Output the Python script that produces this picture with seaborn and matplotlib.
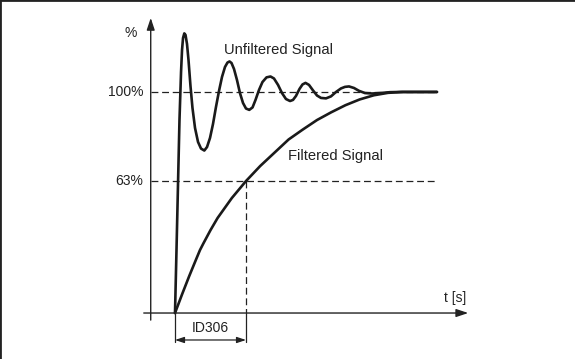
import pandas as pd
import matplotlib
matplotlib.use('Agg')
import matplotlib.pyplot as plt
import seaborn as sns

# time in units of the filter time (ID306 = 1), signal level in % of final value
t_unfiltered = [0, 0.021, 0.042, 0.063, 0.085, 0.099, 0.113, 0.131, 0.148, 0.169,
                0.190, 0.218, 0.246, 0.282, 0.324, 0.366, 0.413, 0.451, 0.493, 0.535,
                0.577, 0.620, 0.662, 0.704, 0.739, 0.768, 0.796, 0.831, 0.873, 0.915,
                0.958, 1.0, 1.046, 1.092, 1.134, 1.183, 1.232, 1.289, 1.345, 1.394,
                1.451, 1.507, 1.563, 1.620, 1.662, 1.704, 1.754, 1.796, 1.838, 1.887,
                1.944, 2.0, 2.056, 2.127, 2.197, 2.268, 2.338, 2.394, 2.451, 2.521,
                2.592, 2.676, 2.775, 2.887, 3.028, 3.169, 3.69]
unfiltered = [0, 28.5, 57.9, 87.3, 109.0, 119.0, 124.4, 126.5, 125.8, 121.7,
              114.5, 102.7, 92.8, 83.7, 77.4, 74.4, 73.5, 75.1, 79.2, 85.5,
              93.2, 100.5, 106.8, 111.3, 113.3, 113.8, 113.1, 110.4, 105.4, 99.5,
              95.0, 92.5, 91.9, 93.0, 96.4, 100.9, 104.5, 106.6, 107.0, 106.1,
              103.2, 99.5, 96.8, 95.9, 96.4, 98.2, 101.4, 103.4, 104.1, 103.2,
              100.7, 98.4, 97.3, 97.1, 98.0, 100.0, 101.6, 102.3, 102.5, 101.8,
              100.5, 99.5, 99.3, 99.5, 99.9, 100, 100]

t_filtered = [0, 0.1, 0.2, 0.3, 0.352, 0.4, 0.5, 0.6, 0.8, 1.0, 1.2, 1.4, 1.6,
              1.8, 2.0, 2.2, 2.4, 2.6, 2.8, 3.0, 3.2, 3.69]
filtered = [0, 8.5, 16.7, 24.5, 28.5, 31.5, 37.5, 43, 52, 59.7, 66.5, 72.5, 78.5,
            83, 87.3, 90.8, 94, 96.6, 98.5, 99.6, 100, 100]

# where the two reference levels sit on the drawing, and their labels
level_values = [100, 59.7]
level_labels = ['100%', '63%']
filter_time = 1.0
filter_label = 'ID306'

df_u = pd.DataFrame({'t': t_unfiltered, 'level': unfiltered})
df_f = pd.DataFrame({'t': t_filtered, 'level': filtered})

sns.set_style('white')
plt.rcParams['font.family'] = ['Liberation Sans', 'DejaVu Sans']

ink = '#222222'
fig = plt.figure(figsize=(5.75, 3.59), dpi=100)
ax = fig.add_axes([0, 0, 1, 1])
ax.set_xlim(-2.465, 5.634)
ax.set_ylim(-20.8, 141.6)
ax.set_xticks([])
ax.set_yticks([])
for side in ['right', 'bottom']:
    ax.spines[side].set_visible(False)
for side in ['left', 'top']:
    ax.spines[side].set_linewidth(2)
    ax.spines[side].set_color(ink)

x_axis_at = -0.342
dash = (0, (5.5, 3))

# reference levels
for v, lab, end in zip(level_values, level_labels, [3.69, 3.66]):
    ax.plot([x_axis_at, end], [v, v], color=ink, lw=0.9, linestyle=dash, zorder=1)
    ax.text(-0.45, v, lab, ha='right', va='center', fontsize=10, color=ink)
ax.plot([filter_time, filter_time], [level_values[1], 0], color=ink, lw=0.9,
        linestyle=dash, zorder=1)

# signals
sns.lineplot(data=df_f, x='t', y='level', ax=ax, color='#1a1a1a', lw=1.9, sort=False, zorder=3)
sns.lineplot(data=df_u, x='t', y='level', ax=ax, color='#1a1a1a', lw=1.9, sort=False, zorder=3)
ax.set_xlabel('')
ax.set_ylabel('')

# axes with arrows
ax.annotate('', xy=(x_axis_at, 133.5), xytext=(x_axis_at, -3.2),
            arrowprops=dict(arrowstyle='-|>,head_length=0.6,head_width=0.2', color=ink,
                            lw=1.0, mutation_scale=12, shrinkA=0, shrinkB=0))
ax.annotate('', xy=(4.13, 0), xytext=(-0.44, 0),
            arrowprops=dict(arrowstyle='-|>,head_length=0.6,head_width=0.2', color=ink,
                            lw=1.0, mutation_scale=12, shrinkA=0, shrinkB=0))
ax.text(-0.54, 126.7, '%', ha='right', va='center', fontsize=10, color=ink)
ax.text(3.94, 6.8, 't [s]', ha='center', va='center', fontsize=10, color=ink)

# filter time dimension
for tx in [0, filter_time]:
    ax.plot([tx, tx], [0, -13.2], color=ink, lw=0.9)
ax.annotate('', xy=(filter_time, -12.2), xytext=(0, -12.2),
            arrowprops=dict(arrowstyle='<|-|>,head_length=0.6,head_width=0.2', color=ink,
                            lw=0.9, mutation_scale=9, shrinkA=0, shrinkB=0))
ax.text(filter_time / 2, -6.8, filter_label, ha='center', va='center', fontsize=10, color=ink)

ax.text(0.69, 119, 'Unfiltered Signal', ha='left', va='center', fontsize=10.6, color=ink)
ax.text(1.59, 71, 'Filtered Signal', ha='left', va='center', fontsize=10.6, color=ink)

fig.savefig('out.png', dpi=100)
